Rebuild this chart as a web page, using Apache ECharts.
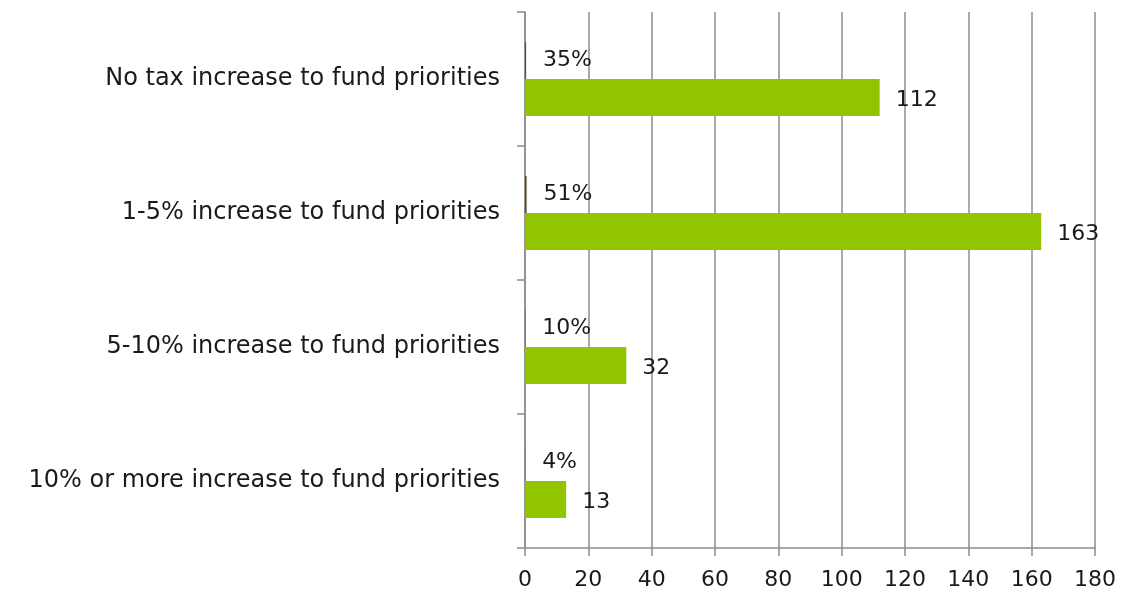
<!DOCTYPE html>
<html><head><meta charset="utf-8">
<script src="https://cdn.jsdelivr.net/npm/echarts@6/dist/echarts.min.js"></script>
<style>html,body{margin:0;padding:0;background:#fff}#c{width:1122px;height:597px}</style>
</head><body><div id="c"></div>
<script>
const categories = ["No tax increase to fund priorities","1-5% increase to fund priorities","5-10% increase to fund priorities","10% or more increase to fund priorities"];
const percentValues = [0.35, 0.51, 0.10, 0.04];
const countValues = [112, 163, 32, 13];
const xTicks = {min: 0, max: 180, interval: 20};
const FONT = "DejaVu Sans";
const chart = echarts.init(document.getElementById('c'));
chart.setOption({
  animation: false,
  grid: {left: 525, right: 27, top: 12, bottom: 49, containLabel: false},
  xAxis: {
    type: 'value', min: xTicks.min, max: xTicks.max, interval: xTicks.interval,
    axisLine: {show: true, lineStyle: {color: '#8c8c8c', width: 1.5}},
    axisTick: {show: true, length: 8, lineStyle: {color: '#8c8c8c', width: 1.5}},
    splitLine: {show: true, lineStyle: {color: '#8c8c8c', width: 1.5}},
    axisLabel: {color: '#1a1a1a', fontSize: 22, fontFamily: FONT, margin: 21}
  },
  yAxis: {
    type: 'category', data: categories, inverse: true,
    axisLine: {show: true, lineStyle: {color: '#8c8c8c', width: 1.5}},
    axisTick: {show: true, length: 8, lineStyle: {color: '#8c8c8c', width: 1.5}},
    axisLabel: {color: '#1a1a1a', fontSize: 24, fontFamily: FONT, margin: 25}
  },
  series: [
    {
      type: 'bar', data: percentValues, barWidth: 37, barGap: '0%',
      itemStyle: {color: '#5a4a2a'},
      label: {show: true, position: 'right', distance: 17, color: '#1a1a1a', fontSize: 22, fontFamily: FONT,
        formatter: p => Math.round(p.value * 100) + '%'}
    },
    {
      type: 'bar', data: countValues, barWidth: 37, barGap: '0%',
      itemStyle: {color: '#92c500'},
      label: {show: true, position: 'right', distance: 16, offset: [0, 3], color: '#1a1a1a', fontSize: 22, fontFamily: FONT}
    }
  ]
});
</script></body></html>
